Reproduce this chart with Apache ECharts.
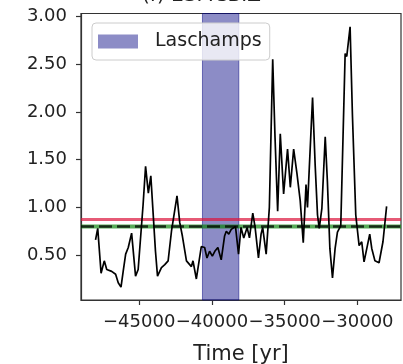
<!DOCTYPE html>
<html>
<head>
<meta charset="utf-8">
<script src="https://cdn.jsdelivr.net/npm/echarts@6/dist/echarts.min.js"></script>
<style>html,body{margin:0;padding:0;background:#fff;}#c{width:403px;height:364px;}</style>
</head>
<body>
<div id="c"></div>
<script>
const years = [-48000,-47850,-47620,-47400,-47230,-46890,-46620,-46440,-46250,-46100,-45930,-45750,-45520,-45250,-45070,-44730,-44560,-44370,-44200,-43880,-43740,-43470,-43240,-43010,-42780,-42400,-42210,-42030,-41750,-41410,-41300,-41070,-40730,-40500,-40340,-40160,-39970,-39800,-39590,-39360,-39130,-39010,-38840,-38670,-38380,-38170,-38000,-37810,-37580,-37420,-37190,-37030,-36800,-36620,-36510,-36270,-36050,-35820,-35660,-35480,-35300,-35070,-34800,-34610,-34380,-34150,-33930,-33720,-33530,-33430,-33080,-32900,-32740,-32620,-32440,-32210,-32060,-31890,-31710,-31530,-31370,-31140,-30840,-30730,-30500,-30340,-30110,-29880,-29700,-29540,-29150,-29010,-28790,-28510,-28240,-27990];
const ratio = [0.66,0.78,0.31,0.44,0.35,0.33,0.30,0.21,0.165,0.33,0.51,0.58,0.73,0.28,0.35,1.03,1.43,1.15,1.33,0.54,0.28,0.37,0.40,0.44,0.75,1.12,0.84,0.70,0.44,0.38,0.44,0.25,0.59,0.58,0.47,0.54,0.49,0.54,0.58,0.45,0.70,0.75,0.72,0.77,0.80,0.51,0.79,0.68,0.79,0.68,0.94,0.79,0.47,0.72,0.79,0.51,1.00,2.55,1.73,0.96,1.77,1.14,1.61,1.21,1.61,1.35,1.07,0.63,1.24,1.00,2.15,1.44,0.92,0.78,0.99,1.74,1.27,0.57,0.26,0.57,0.74,0.81,2.61,2.58,2.89,1.97,0.92,0.60,0.64,0.43,0.72,0.57,0.44,0.42,0.64,1.01];
const laschamps = [-40650, -38150];
const redLevel = 0.874;
const greenLevel = 0.80;
const xRange = [-49000, -27000];
const yRange = [0.03, 3.03];
const xTicks = [-45000, -40000, -35000, -30000];
const yTicks = [0.5, 1.0, 1.5, 2.0, 2.5, 3.0];
const titleText = '(f) ESMCBIZ';
const xName = 'Time [yr]';
const legendName = 'Laschamps';

const FONT = 'DejaVu Sans';
const chart = echarts.init(document.getElementById('c'), null, {renderer: 'canvas'});
const lineData = years.map((y, i) => [y, ratio[i]]);
chart.setOption({
  animation: false,
  title: {
    text: titleText, left: 'center', top: -19,
    textStyle: {fontFamily: FONT, fontSize: 20, fontWeight: 'normal', color: '#222'}
  },
  grid: {left: 81, right: 2, top: 13.5, bottom: 64, containLabel: false, outerBoundsMode: 'none',
    show: true, borderColor: '#333', borderWidth: 1.2, backgroundColor: 'transparent'},
  legend: {
    data: [{name: legendName, icon: 'rect'}],
    left: 92, top: 23, itemWidth: 40, itemHeight: 14,
    padding: [9, 8, 9, 6],
    backgroundColor: 'rgba(255,255,255,0.8)', borderColor: '#ccc', borderWidth: 1, borderRadius: 4,
    textStyle: {fontFamily: FONT, fontSize: 19, color: '#222', padding: [0, 0, 0, 12]}
  },
  xAxis: {
    type: 'value', min: xRange[0], max: xRange[1],
    name: xName, nameLocation: 'middle', nameGap: 44,
    nameTextStyle: {fontFamily: FONT, fontSize: 21, color: '#222'},
    axisLine: {show: true, lineStyle: {color: '#333', width: 1.2}},
    axisTick: {show: true, length: 5, customValues: xTicks, lineStyle: {color: '#333', width: 1.2}},
    axisLabel: {customValues: xTicks, margin: 13, fontFamily: FONT, fontSize: 18, color: '#222',
      hideOverlap: false, showMinLabel: true, showMaxLabel: true,
      formatter: v => (v < 0 ? '\u2212' : '') + Math.abs(v)},
    splitLine: {show: false}
  },
  yAxis: {
    type: 'value', min: yRange[0], max: yRange[1],
    axisLine: {show: true, lineStyle: {color: '#333', width: 1.2}},
    axisTick: {show: true, length: 5, customValues: yTicks, lineStyle: {color: '#333', width: 1.2}},
    axisLabel: {customValues: yTicks, margin: 14, fontFamily: FONT, fontSize: 18, color: '#222',
      formatter: v => v.toFixed(2)},
    splitLine: {show: false}
  },
  series: [
    {
      name: 'data', type: 'line', data: lineData, showSymbol: false, symbol: 'none',
      lineStyle: {color: '#000', width: 1.7}, z: 3, silent: true
    },
    {
      name: 'red', type: 'line', data: [[xRange[0], redLevel], [xRange[1], redLevel]],
      showSymbol: false, symbol: 'none', lineStyle: {color: 'rgba(220,20,60,0.7)', width: 3}, z: 2, silent: true
    },
    {
      name: 'green', type: 'line', data: [[xRange[0], greenLevel], [xRange[1], greenLevel]],
      showSymbol: false, symbol: 'none', lineStyle: {color: 'rgba(0,128,0,0.65)', width: 4}, z: 2, silent: true
    },
    {
      name: 'blackdash', type: 'line', data: [[xRange[0], greenLevel], [xRange[1], greenLevel]],
      showSymbol: false, symbol: 'none', lineStyle: {color: 'rgba(0,0,0,0.75)', width: 2.5, type: [13, 5]}, z: 2, silent: true
    },
    {
      name: legendName, type: 'line', data: [], z: 5,
      itemStyle: {color: 'rgb(140,140,198)'},
      lineStyle: {color: 'rgb(140,140,198)'},
      markArea: {
        silent: true,
        itemStyle: {color: 'rgba(0,0,128,0.45)', borderColor: 'rgba(0,0,128,0.5)', borderWidth: 1},
        data: [[{xAxis: laschamps[0]}, {xAxis: laschamps[1]}]]
      }
    }
  ]
});
</script>
</body>
</html>
